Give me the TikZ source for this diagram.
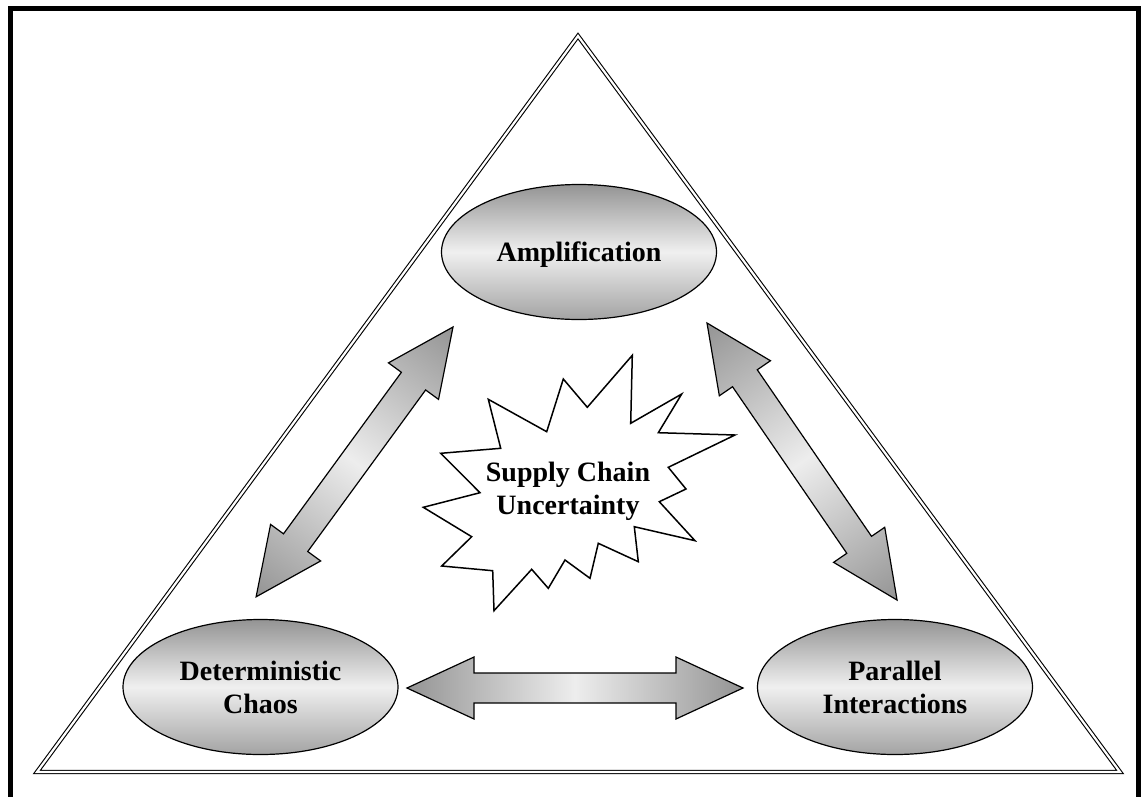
\documentclass[tikz,border=0pt]{standalone}
\usepackage{fontspec}
\setmainfont{Liberation Serif}
\usetikzlibrary{shapes.geometric}
\newcommand\dblarrowat[3]{% #1 start coordinate, #2 angle, #3 length
  \begin{scope}[transform canvas={shift={(#1)},rotate=#2}]
    \draw[arrowshade] (0,0) -- (67,31) -- (67,15) -- ({#3-67},15) -- ({#3-67},31)
      -- (#3,0) -- ({#3-67},-31) -- ({#3-67},-15) -- (67,-15) -- (67,-31) -- cycle;
  \end{scope}}
\begin{document}
\begin{tikzpicture}[x=1pt,y=-1pt,
  ell/.style={ellipse, draw, line width=1.2pt, minimum width=275pt, minimum height=135pt,
    inner sep=0pt, top color=black!42, bottom color=black!36, middle color=black!6,
    align=center, font=\bfseries\fontsize{28}{33}\selectfont},
  arrowshade/.style={draw, line width=1.2pt, line join=miter,
    left color=black!42, right color=black!42, middle color=black!7},
  tri/.style={draw, line width=1.1pt, double, double distance=2.2pt, line join=miter},
  burst/.style={draw, line width=1.5pt, line join=miter, fill=white},
  lbl/.style={align=center, font=\bfseries\fontsize{28}{33}\selectfont, inner sep=0pt},
  frame/.style={draw, line width=5pt}]
\useasboundingbox (0,0) rectangle (1146,796);
% outer frame (open at the bottom)
\draw[frame] (10,800) -- (10,8.5) -- (1138,8.5) -- (1138,800);
% triangle
\coordinate (apex) at (578,36);
\coordinate (bl) at (37,772);
\coordinate (br) at (1120,772);
\draw[tri] (apex) -- (bl) -- (br) -- cycle;
% ellipses
\node[ell, text depth=0pt] (amp) at (579,252) {Amplification};
\node[ell] (dc) at (260.5,687) {Deterministic\\Chaos};
\node[ell] (pi) at (895,687) {Parallel\\Interactions};
% double arrows
\coordinate (amp-dc) at (453,327);
\coordinate (dc-amp) at (256,597);
\coordinate (amp-pi) at (707,323);
\coordinate (pi-amp) at (897,600);
\coordinate (dc-pi) at (407,688);
\coordinate (pi-dc) at (743,688);
\dblarrowat{amp-dc}{-126.12}{334}
\dblarrowat{amp-pi}{-55.55}{336}
\dblarrowat{dc-pi}{0}{336}
% starburst
\draw[burst] (488.3,399.3) -- (546.7,431.7) -- (563.3,379) -- (587.3,407.3)
  -- (632.3,355.3) -- (630.7,423.3) -- (681.7,394) -- (658.3,432.7)
  -- (735,435) -- (668.3,467.3) -- (686,489) -- (659.3,501.7)
  -- (695,540.7) -- (634.3,526.7) -- (638.3,561.7) -- (598.3,543.3)
  -- (590,578.3) -- (565,560) -- (548.3,588.3) -- (531.7,569.3)
  -- (494,610.7) -- (492.7,570.7) -- (441.7,566) -- (471.7,536.7)
  -- (423.3,507.3) -- (480,492.7) -- (440.7,453.3) -- (500.7,448.3) -- cycle;
\node[lbl] (scu) at (568,491) {Supply Chain\\Uncertainty};
\end{tikzpicture}
\end{document}
